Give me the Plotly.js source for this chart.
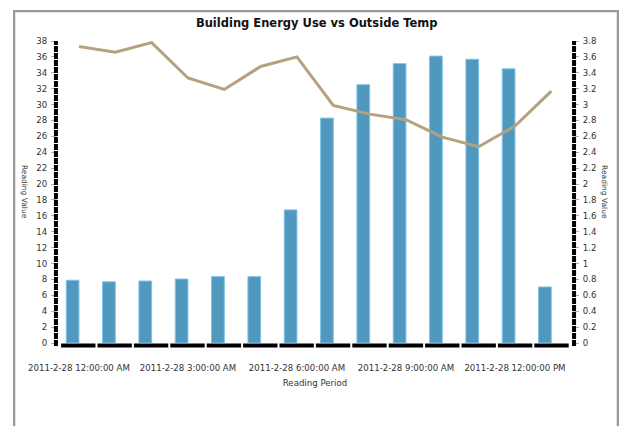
<!DOCTYPE html>
<html>
<head>
<meta charset="utf-8">
<script src="https://cdn.plot.ly/plotly-3.0.1.min.js"></script>
<style>
  html, body { margin: 0; padding: 0; width: 621px; height: 426px; overflow: hidden; background: #ffffff; }
  #frame { position: absolute; left: 13px; top: 10px; width: 602px; height: 440px;
           border: 2px solid #9a9a9a; box-shadow: inset 0 0 0 1px #dcebd6; background: #fff; }
  #chart { position: absolute; left: 0; top: 0; width: 621px; height: 426px; }
</style>
</head>
<body>
<div id="frame"></div>
<div id="chart"></div>
<script>
// Hourly reading periods
var categories = [
  "2011-2-28 12:00:00 AM", "2011-2-28 1:00:00 AM", "2011-2-28 2:00:00 AM",
  "2011-2-28 3:00:00 AM", "2011-2-28 4:00:00 AM", "2011-2-28 5:00:00 AM",
  "2011-2-28 6:00:00 AM", "2011-2-28 7:00:00 AM", "2011-2-28 8:00:00 AM",
  "2011-2-28 9:00:00 AM", "2011-2-28 10:00:00 AM", "2011-2-28 11:00:00 AM",
  "2011-2-28 12:00:00 PM", "2011-2-28 1:00:00 PM"
];
// Energy use (left axis, bars)
var energyUse = [7.9, 7.7, 7.8, 8.05, 8.35, 8.35, 16.75, 28.3, 32.5, 35.15, 36.1, 35.7, 34.5, 7.05];
// Outside temp (right axis, line)
var outsideTemp = [3.73, 3.66, 3.78, 3.335, 3.19, 3.48, 3.6, 2.99, 2.88, 2.81, 2.59, 2.47, 2.73, 3.17];
// Tick labels shown on the x axis
var xTickLabels = [categories[0], categories[3], categories[6], categories[9], categories[12]];

var tickFont = { family: "DejaVu Sans, Verdana, sans-serif", size: 8.6, color: "#333333" };

var traces = [
  {
    type: "bar",
    x: categories,
    y: energyUse,
    width: 0.35,
    offset: -0.35,
    marker: { color: "#5198bf", line: { color: "#7ec3e8", width: 1 } },
    yaxis: "y",
    hoverinfo: "x+y"
  },
  {
    type: "scatter",
    mode: "lines",
    x: categories,
    y: outsideTemp,
    line: { color: "#b5a17f", width: 3 },
    yaxis: "y2",
    hoverinfo: "x+y"
  }
];

var layout = {
  width: 621,
  height: 426,
  paper_bgcolor: "rgba(0,0,0,0)",
  plot_bgcolor: "rgba(0,0,0,0)",
  showlegend: false,
  margin: { l: 58, r: 49, t: 41, b: 83, pad: 0 },
  title: {
    text: "<b>Building Energy Use vs Outside Temp</b>",
    font: { family: "DejaVu Sans, Verdana, sans-serif", size: 11.5, color: "#111111" },
    x: 0.51, xanchor: "center", y: 0.946, yanchor: "middle"
  },
  xaxis: {
    type: "category",
    categoryorder: "array",
    categoryarray: categories,
    range: [-0.577, 13.57],
    tickmode: "array",
    tickvals: xTickLabels,
    ticktext: xTickLabels,
    ticks: "",
    ticklabelstandoff: 18,
    tickfont: tickFont,
    showgrid: false,
    zeroline: false,
    showline: false,
    title: { text: "Reading Period", font: { family: "DejaVu Sans, Verdana, sans-serif", size: 8.6, color: "#333333" }, standoff: 8 }
  },
  yaxis: {
    range: [0, 38],
    dtick: 2,
    tick0: 0,
    ticks: "outside",
    ticklen: 6,
    tickwidth: 1,
    tickcolor: "#b0b0b0",
    tickfont: tickFont,
    showgrid: false,
    zeroline: false,
    showline: false,
    ticklabelstandoff: 2
  },
  yaxis2: {
    overlaying: "y",
    side: "right",
    range: [0, 3.8],
    dtick: 0.2,
    tick0: 0,
    ticks: "outside",
    ticklen: 6,
    tickwidth: 1,
    tickcolor: "#b0b0b0",
    tickfont: tickFont,
    showgrid: false,
    zeroline: false,
    showline: false,
    ticklabelstandoff: 2
  },
  shapes: [
    { type: "line", xref: "paper", yref: "paper", x0: -0.004, x1: -0.004, y0: -0.01, y1: 1,
      line: { color: "#000000", width: 4, dash: "6px,1px" } },
    { type: "line", xref: "paper", yref: "paper", x0: 1.004, x1: 1.004, y0: -0.01, y1: 1,
      line: { color: "#000000", width: 4, dash: "6px,1px" } },
    { type: "line", xref: "paper", yref: "paper", x0: 0.006, x1: 0.994, y0: -0.008, y1: -0.008,
      line: { color: "#000000", width: 4, dash: "34.4px,2px" } }
  ],
  annotations: [
    { text: "Reading Value", xref: "paper", yref: "paper", x: -0.064, y: 0.5, showarrow: false,
      xanchor: "center", yanchor: "middle",
      textangle: 90, font: { family: "DejaVu Sans, Verdana, sans-serif", size: 7.5, color: "#333333" } },
    { text: "Reading Value", xref: "paper", yref: "paper", x: 1.064, y: 0.5, showarrow: false,
      xanchor: "center", yanchor: "middle",
      textangle: 90, font: { family: "DejaVu Sans, Verdana, sans-serif", size: 7.5, color: "#333333" } }
  ]
};

Plotly.newPlot("chart", traces, layout, { displayModeBar: false, staticPlot: true });
</script>
</body>
</html>
